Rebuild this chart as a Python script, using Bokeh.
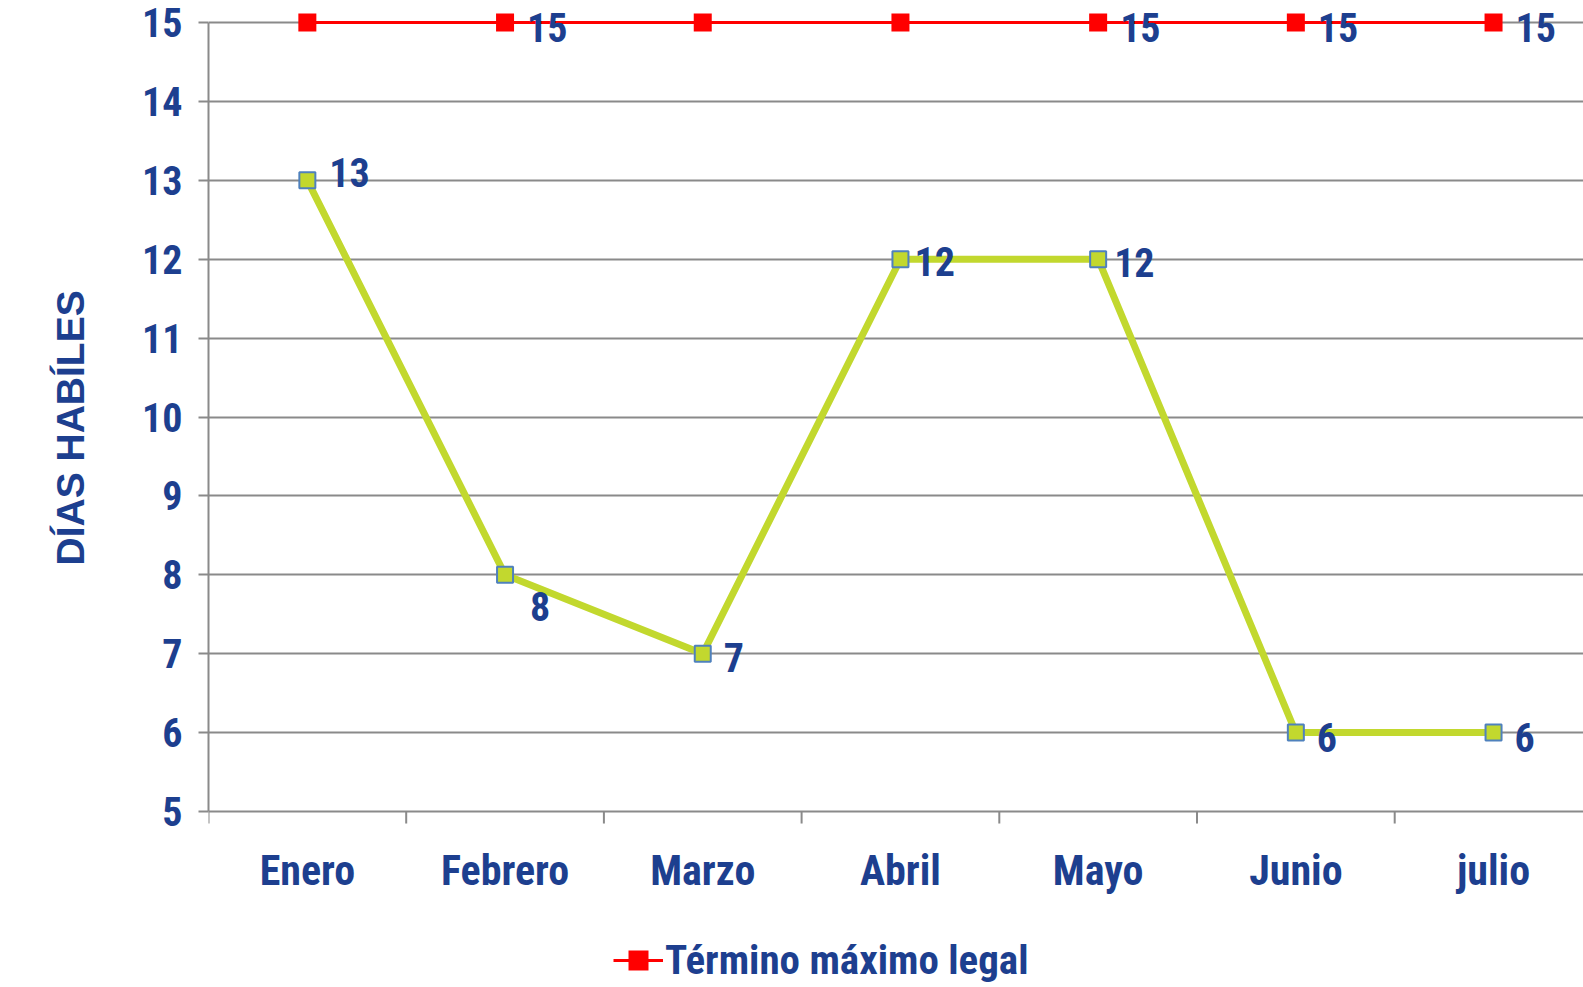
from bokeh.plotting import figure
from bokeh.models import (ColumnDataSource, FixedTicker, Range1d, Legend, LegendItem, Title)
from bokeh.core.properties import value
from bokeh.embed import file_html
from bokeh.resources import INLINE

# ---- data ----
months = ["Enero", "Febrero", "Marzo", "Abril", "Mayo", "Junio", "julio"]
dias = [13, 8, 7, 12, 12, 6, 6]
maximo = [15, 15, 15, 15, 15, 15, 15]
maximo_labels = ["", "15", "", "", "15", "15", "15"]
y_ticks = [5, 6, 7, 8, 9, 10, 11, 12, 13, 14, 15]

# ---- label offsets (screen px) ----
dias_dx = [22, 25, 21, 14, 16, 21, 21]
dias_dy = [-8, 32, 4, 2, 3, 5, 5]
max_dx = [22, 22, 22, 22, 22, 22, 22]
max_dy = [5, 5, 5, 5, 5, 5, 5]

NAVY = "#1D3F8F"
GRID = "#8A8A8A"
GREEN = "#C2D82E"
RED = "#FF0000"
NARROW = "'Roboto Condensed', 'DejaVu Sans Condensed', sans-serif"

xs = list(range(1, len(months) + 1))
boundaries = [i + 0.5 for i in range(len(months) + 1)]
y_base = y_ticks[0]

FRAME_H = 985
Y_END = 15.279
Y_START = 2.795
px_per_unit = FRAME_H / (Y_END - Y_START)

p = figure(frame_width=1375, frame_height=FRAME_H,
           x_range=Range1d(0.5, 7.455), y_range=Range1d(Y_START, Y_END),
           x_axis_location=None,
           output_backend="svg", toolbar_location=None,
           min_border_left=208, min_border_right=0, min_border_top=0,
           min_border_bottom=0)
p.outline_line_color = None
p.background_fill_color = "white"
p.border_fill_color = "white"

# y axis
p.yaxis.ticker = FixedTicker(ticks=y_ticks)
p.yaxis.bounds = (5, 15)
p.yaxis.axis_line_color = GRID
p.yaxis.axis_line_width = 2
p.yaxis.major_tick_line_color = GRID
p.yaxis.major_tick_line_width = 2
p.yaxis.major_tick_out = 10
p.yaxis.major_tick_in = 0
p.yaxis.minor_tick_line_color = None
p.yaxis.major_label_standoff = 16
p.yaxis.major_label_text_font = NARROW
p.yaxis.major_label_text_font_style = "bold"
p.yaxis.major_label_text_font_size = "40px"
p.yaxis.major_label_text_color = NAVY

p.xgrid.grid_line_color = None
p.ygrid.ticker = FixedTicker(ticks=y_ticks)
p.ygrid.grid_line_color = GRID
p.ygrid.grid_line_width = 2

# category axis: tick marks between categories and category labels
tick_len = 12 / px_per_unit
p.segment(x0=boundaries, y0=[y_base] * len(boundaries),
          x1=boundaries, y1=[y_base - tick_len] * len(boundaries),
          line_color=GRID, line_width=2)
p.text(x=xs, y=[y_base] * len(xs), text=months, y_offset=59,
       text_align="center", text_baseline="middle",
       text_font=value(NARROW), text_font_style="bold",
       text_font_size="42px", text_color=NAVY)

src_d = ColumnDataSource(dict(x=xs, y=dias, t=[str(v) for v in dias], dx=dias_dx, dy=dias_dy))
src_m = ColumnDataSource(dict(x=xs, y=maximo, t=maximo_labels, dx=max_dx, dy=max_dy))

p.line("x", "y", source=src_d, line_color=GREEN, line_width=7)
p.scatter("x", "y", source=src_d, marker="square", size=16, fill_color=GREEN,
          line_color="#4F81BD", line_width=2)

r_line = p.line("x", "y", source=src_m, line_color=RED, line_width=3)
r_pts = p.scatter("x", "y", source=src_m, marker="square", size=18,
                  fill_color=RED, line_color=None)

for src in (src_d, src_m):
    p.text("x", "y", text="t", source=src, x_offset="dx", y_offset="dy",
           text_align="left", text_baseline="middle",
           text_font=value(NARROW), text_font_style="bold",
           text_font_size="40px", text_color=NAVY)

# rotated axis title in the left border
p.add_layout(Title(text="DÍAS HABÍLES", align="left", offset=FRAME_H - 565,
                   vertical_align="top", standoff=92,
                   text_font="Liberation Sans", text_font_style="bold",
                   text_font_size="39px", text_color=NAVY), "left")

legend = Legend(items=[LegendItem(label="Término máximo legal", renderers=[r_line, r_pts])],
                location=(405, 0), orientation="horizontal",
                glyph_width=50, glyph_height=50, label_standoff=2,
                label_text_font=NARROW, label_text_font_style="bold",
                label_text_font_size="41px", label_text_color=NAVY,
                background_fill_alpha=0, border_line_color=None,
                margin=0, padding=0)
p.add_layout(legend, "center")

open("out.html", "w").write(file_html(p, INLINE))
